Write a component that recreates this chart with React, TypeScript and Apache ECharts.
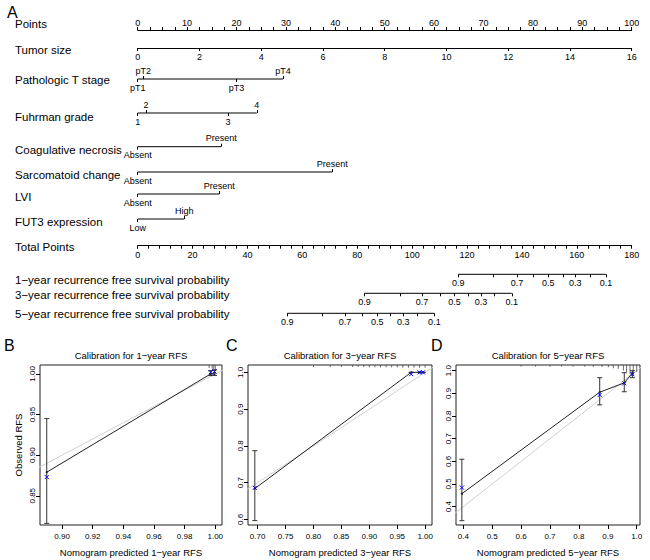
import React, { useEffect, useRef } from "react";
import * as echarts from "echarts";

const FONT = "'Liberation Sans', Arial, Helvetica, sans-serif";

// ---------- Panel A: nomogram ----------
const pointsMax = 100;
const pointsStep = 10;
const tumorSizeMax = 16;
const tumorSizeStep = 2;
const totalPointsMax = 180;
const totalPointsStep = 20;

const tStageLevels = ["pT1", "pT2", "pT3", "pT4"];
const tStagePoints = [0, 1.1, 20.0, 29.4];
const gradeLevels = ["1", "2", "3", "4"];
const gradePoints = [0, 1.7, 18.3, 24.1];
const necrosisLevels = ["Absent", "Present"];
const necrosisPoints = [0, 16.9];
const sarcomatoidLevels = ["Absent", "Present"];
const sarcomatoidPoints = [0, 39.4];
const lviLevels = ["Absent", "Present"];
const lviPoints = [0, 16.5];
const fut3Levels = ["Low", "High"];
const fut3Points = [0, 9.4];

const survivalProbs = [0.9, 0.8, 0.7, 0.6, 0.5, 0.4, 0.3, 0.2, 0.1];
const survivalProbLabels = [0.9, 0.7, 0.5, 0.3, 0.1];
const rfs1yTotalPoints = [116.8, 129.7, 138.2, 144.1, 149.6, 154.9, 159.4, 164.8, 170.6];
const rfs3yTotalPoints = [82.6, 95.6, 103.6, 110.4, 115.4, 120.3, 125.1, 130.0, 136.3];
const rfs5yTotalPoints = [54.5, 67.1, 75.5, 82.0, 87.3, 92.2, 96.8, 101.9, 108.1];

// ---------- Panel B: 1-year calibration ----------
const cal1Predicted = [0.890, 0.997, 0.9995];
const cal1Observed = [0.879, 1.0, 1.0];
const cal1Lower = [0.816, 0.998, 0.998];
const cal1Upper = [0.945, 1.004, 1.005];
const cal1Corrected = [0.873, 1.002, 1.003];
const cal1XTicks = [0.9, 0.92, 0.94, 0.96, 0.98, 1.0];
const cal1YTicks = [0.85, 0.9, 0.95, 1.0];
const cal1XLim = [0.8856, 1.0044];
const cal1YLim = [0.814, 1.011];
const cal1RugX = [0.996, 0.998, 0.999, 1.0];
const cal1RugLen = [0.003, 0.004, 0.005, 0.006];

// ---------- Panel C: 3-year calibration ----------
const cal3Predicted = [0.695, 0.975, 0.99, 0.996];
const cal3Observed = [0.684, 1.0, 1.0, 1.0];
const cal3Lower = [0.597, 1.0, 1.0, 1.0];
const cal3Upper = [0.787, 1.0, 1.0, 1.0];
const cal3Corrected = [0.686, 0.995, 1.0, 1.0];
const cal3XTicks = [0.7, 0.75, 0.8, 0.85, 0.9, 0.95, 1.0];
const cal3YTicks = [0.6, 0.7, 0.8, 0.9, 1.0];
const cal3XLim = [0.6828, 1.0122];
const cal3YLim = [0.585, 1.02];
const cal3RugX = [0.8, 0.83, 0.85, 0.87, 0.88, 0.89, 0.9, 0.91, 0.92, 0.93, 0.94, 0.95, 0.96, 0.97, 0.98, 0.99, 1.0];
const cal3RugLen = [0.004, 0.004, 0.004, 0.004, 0.004, 0.004, 0.005, 0.005, 0.005, 0.005, 0.005, 0.005, 0.006, 0.006, 0.006, 0.006, 0.006];

// ---------- Panel D: 5-year calibration ----------
const cal5Predicted = [0.395, 0.872, 0.957, 0.985];
const cal5Observed = [0.457, 0.905, 0.946, 0.99];
const cal5Lower = [0.338, 0.849, 0.907, 0.969];
const cal5Upper = [0.609, 0.969, 0.991, 1.0];
const cal5Corrected = [0.484, 0.893, 0.944, 0.984];
const cal5XTicks = [0.4, 0.5, 0.6, 0.7, 0.8, 0.9, 1.0];
const cal5YTicks = [0.4, 0.5, 0.6, 0.7, 0.8, 0.9, 1.0];
const cal5XLim = [0.3747, 1.0114];
const cal5YLim = [0.319, 1.025];
const cal5RugX = [0.6, 0.65, 0.7, 0.74, 0.78, 0.82, 0.85, 0.88, 0.902, 0.919, 0.936, 0.954, 0.965, 0.977, 0.988, 1.0];
const cal5RugLen = [0.005, 0.005, 0.005, 0.005, 0.005, 0.005, 0.006, 0.006, 0.0074, 0.012, 0.015, 0.022, 0.029, 0.037, 0.044, 0.029];

// ---------- layout ----------
const NOMO_LEFT = 137.7;
const NOMO_RIGHT = 650 - 631.7;

function buildOption() {
  const grids: any[] = [];
  const xAxes: any[] = [];
  const yAxes: any[] = [];
  const series: any[] = [];
  const graphics: any[] = [];

  const lbl = (extra: any = {}) => ({ color: "#000", fontFamily: FONT, fontSize: 9, margin: 4, ...extra });
  const tick = (extra: any = {}) => ({ show: true, length: 3, lineStyle: { color: "#000", width: 1 }, ...extra });
  const line = { show: true, lineStyle: { color: "#000", width: 1 } };

  const addNomoGrid = (top: number) => {
    const gi = grids.length;
    grids.push({ left: NOMO_LEFT, right: NOMO_RIGHT, top, height: 0, show: false, containLabel: false, outerBoundsMode: "none" });
    yAxes.push({ type: "value", gridIndex: gi, min: 0, max: 1, show: false });
    return gi;
  };

  const text = (t: string, x: number, y: number, size: number, extra: any = {}) => {
    graphics.push({
      type: "text",
      x,
      y,
      silent: true,
      style: { text: t, fill: "#000", fontFamily: FONT, fontSize: size, verticalAlign: "middle", ...extra },
    });
  };

  const nearestLabel = (pts: number[], names: string[]) => (v: number) => {
    let best = 0;
    pts.forEach((p, i) => {
      if (Math.abs(p - v) < Math.abs(pts[best] - v)) best = i;
    });
    return names[best];
  };

  // Points
  {
    const gi = addNomoGrid(30);
    xAxes.push({
      type: "value", gridIndex: gi, position: "top", min: 0, max: pointsMax, interval: pointsStep,
      splitLine: { show: false }, axisLine: line, axisTick: tick(),
      minorTick: { show: true, splitNumber: 4, length: 3, lineStyle: { color: "#000", width: 1 } },
      axisLabel: lbl({ margin: 3 }),
    });
    text("Points", 15, 24, 11.5);
  }
  // Tumor size
  {
    const gi = addNomoGrid(48);
    xAxes.push({
      type: "value", gridIndex: gi, position: "bottom", min: 0, max: tumorSizeMax, interval: tumorSizeStep,
      splitLine: { show: false }, axisLine: line, axisTick: tick(), axisLabel: lbl({ margin: 4 }),
    });
    text("Tumor size", 15, 50, 11.5);
  }

  const addCategorical = (name: string, labelY: number, lineY: number, levels: string[], pts: number[]) => {
    const gi = addNomoGrid(lineY);
    const below = pts.filter((_, i) => i % 2 === 0);
    const above = pts.filter((_, i) => i % 2 === 1);
    const fmt = nearestLabel(pts, levels);
    const xb = xAxes.length;
    xAxes.push({
      type: "value", gridIndex: gi, position: "bottom", min: 0, max: pointsMax,
      splitLine: { show: false }, axisLine: { show: false },
      axisTick: tick({ customValues: below }), axisLabel: lbl({ customValues: below, formatter: fmt, margin: 4 }),
    });
    xAxes.push({
      type: "value", gridIndex: gi, position: "top", min: 0, max: pointsMax,
      splitLine: { show: false }, axisLine: { show: false },
      axisTick: tick({ customValues: above }), axisLabel: lbl({ customValues: above, formatter: fmt, margin: 4 }),
    });
    series.push({
      type: "line", xAxisIndex: xb, yAxisIndex: gi, data: [[Math.min(...pts), 0], [Math.max(...pts), 0]],
      symbol: "none", lineStyle: { color: "#000", width: 1 }, silent: true, clip: false,
    });
    text(name, 15, labelY, 11.5);
  };

  addCategorical("Pathologic T stage", 80, 79, tStageLevels, tStagePoints);
  addCategorical("Fuhrman grade", 117, 113, gradeLevels, gradePoints);
  addCategorical("Coagulative necrosis", 150, 146.7, necrosisLevels, necrosisPoints);
  addCategorical("Sarcomatoid change", 175, 172, sarcomatoidLevels, sarcomatoidPoints);
  addCategorical("LVI", 197, 194, lviLevels, lviPoints);
  addCategorical("FUT3 expression", 222, 219, fut3Levels, fut3Points);

  // Total points
  {
    const gi = addNomoGrid(245.7);
    xAxes.push({
      type: "value", gridIndex: gi, position: "bottom", min: 0, max: totalPointsMax, interval: totalPointsStep,
      splitLine: { show: false }, axisLine: line, axisTick: tick(),
      minorTick: { show: true, splitNumber: 5, length: 3, lineStyle: { color: "#000", width: 1 } },
      axisLabel: lbl({ margin: 5 }),
    });
    text("Total Points", 15, 247, 11.5);
  }

  const addProb = (name: string, labelY: number, lineY: number, pts: number[]) => {
    const gi = addNomoGrid(lineY);
    const labelled = pts.filter((_, i) => survivalProbLabels.indexOf(survivalProbs[i]) >= 0);
    const names = survivalProbs.map((p) => String(p));
    const xb = xAxes.length;
    xAxes.push({
      type: "value", gridIndex: gi, position: "bottom", min: 0, max: totalPointsMax,
      splitLine: { show: false }, axisLine: { show: false },
      axisTick: tick({ customValues: pts }),
      axisLabel: lbl({ customValues: labelled, formatter: nearestLabel(pts, names), margin: 4 }),
    });
    series.push({
      type: "line", xAxisIndex: xb, yAxisIndex: gi, data: [[Math.min(...pts), 0], [Math.max(...pts), 0]],
      symbol: "none", lineStyle: { color: "#000", width: 1 }, silent: true, clip: false,
    });
    text(name, 15, labelY, 11.5);
  };

  addProb("1\u2212year recurrence free survival probability", 280, 274.3, rfs1yTotalPoints);
  addProb("3\u2212year recurrence free survival probability", 295, 293.3, rfs3yTotalPoints);
  addProb("5\u2212year recurrence free survival probability", 314, 313.3, rfs5yTotalPoints);

  text("A", 7, 12.5, 16);

  // ---------- calibration panels ----------
  const addCal = (cfg: any) => {
    const gi = grids.length;
    grids.push({
      left: cfg.left, width: cfg.width, top: 365, height: 160, show: true,
      borderColor: "#222", borderWidth: 1, backgroundColor: "transparent",
      containLabel: false, outerBoundsMode: "none",
    });
    const xi = xAxes.length;
    xAxes.push({
      type: "value", gridIndex: gi, position: "bottom", min: cfg.xLim[0], max: cfg.xLim[1],
      splitLine: { show: false }, axisLine: { show: false },
      axisTick: { show: true, length: 4, lineStyle: { color: "#000" }, customValues: cfg.xTicks },
      axisLabel: { customValues: cfg.xTicks, formatter: (v: number) => v.toFixed(cfg.xDec), color: "#000", fontFamily: FONT, fontSize: 8, margin: 7 },
      name: cfg.xName, nameLocation: "middle", nameGap: 22,
      nameTextStyle: { color: "#000", fontFamily: FONT, fontSize: 9.5 },
    });
    yAxes.push({
      type: "value", gridIndex: gi, position: "left", min: cfg.yLim[0], max: cfg.yLim[1],
      splitLine: { show: false }, axisLine: { show: false },
      axisTick: { show: true, length: 4, lineStyle: { color: "#000" }, customValues: cfg.yTicks },
      axisLabel: { customValues: cfg.yTicks, formatter: (v: number) => v.toFixed(cfg.yDec), rotate: 90, color: "#000", fontFamily: FONT, fontSize: 8, margin: 4 },
      name: cfg.yName || "", nameLocation: "middle", nameGap: 17,
      nameTextStyle: { color: "#000", fontFamily: FONT, fontSize: 9.5 },
    });
    const yi = gi;
    const lo = Math.min(cfg.xLim[0], cfg.yLim[0]);
    const hi = Math.max(cfg.xLim[1], cfg.yLim[1]);
    // ideal line
    series.push({
      type: "line", xAxisIndex: xi, yAxisIndex: yi, data: [[lo, lo], [hi, hi]], symbol: "none",
      lineStyle: { color: "#d0d0d0", width: 1 }, silent: true, clip: true, z: 1,
    });
    // rug along the top
    const yTop = cfg.yLim[1];
    series.push({
      type: "custom", xAxisIndex: xi, yAxisIndex: yi, silent: true, z: 2,
      data: cfg.rugX.map((x: number, i: number) => [x, cfg.rugLen[i]]),
      renderItem: (_p: any, api: any) => {
        const a = api.coord([api.value(0), yTop]);
        const b = api.coord([api.value(0), yTop - api.value(1)]);
        return { type: "line", shape: { x1: a[0], y1: a[1], x2: b[0], y2: b[1] + 0.5 }, style: { stroke: "#444", lineWidth: 0.8 } };
      },
    });
    // observed line
    series.push({
      type: "line", xAxisIndex: xi, yAxisIndex: yi,
      data: cfg.pred.map((x: number, i: number) => [x, cfg.obs[i]]),
      symbol: "circle", symbolSize: 2, itemStyle: { color: "#000" },
      lineStyle: { color: "#222", width: 1 }, silent: true, clip: false, z: 3,
    });
    // error bars
    series.push({
      type: "custom", xAxisIndex: xi, yAxisIndex: yi, silent: true, z: 4,
      data: cfg.pred.map((x: number, i: number) => [x, cfg.lower[i], cfg.upper[i]]),
      encode: { x: 0, y: [1, 2] },
      renderItem: (_p: any, api: any) => {
        const x = api.value(0);
        const a = api.coord([x, api.value(1)]);
        const b = api.coord([x, api.value(2)]);
        const w = 2.5;
        const st = { stroke: "#333", lineWidth: 1 };
        return {
          type: "group",
          children: [
            { type: "line", shape: { x1: a[0], y1: a[1], x2: b[0], y2: b[1] }, style: st },
            { type: "line", shape: { x1: a[0] - w, y1: a[1], x2: a[0] + w, y2: a[1] }, style: st },
            { type: "line", shape: { x1: b[0] - w, y1: b[1], x2: b[0] + w, y2: b[1] }, style: st },
          ],
        };
      },
    });
    // bias-corrected (blue x)
    series.push({
      type: "custom", xAxisIndex: xi, yAxisIndex: yi, silent: true, z: 5,
      data: cfg.pred.map((x: number, i: number) => [x, cfg.corr[i]]),
      renderItem: (_p: any, api: any) => {
        const c = api.coord([api.value(0), api.value(1)]);
        const s = 2;
        const st = { stroke: "#0000ff", lineWidth: 1 };
        return {
          type: "group",
          children: [
            { type: "line", shape: { x1: c[0] - s, y1: c[1] - s, x2: c[0] + s, y2: c[1] + s }, style: st },
            { type: "line", shape: { x1: c[0] - s, y1: c[1] + s, x2: c[0] + s, y2: c[1] - s }, style: st },
          ],
        };
      },
    });
    text(cfg.title, cfg.left + cfg.width / 2, 355, 9.5, { align: "center" });
    text(cfg.letter, cfg.letterX, 345, 16);
  };

  addCal({
    left: 40, width: 182, xLim: cal1XLim, yLim: cal1YLim, xTicks: cal1XTicks, yTicks: cal1YTicks, xDec: 2, yDec: 2,
    xName: "Nomogram predicted 1\u2212year RFS", yName: "Observed RFS",
    pred: cal1Predicted, obs: cal1Observed, lower: cal1Lower, upper: cal1Upper, corr: cal1Corrected,
    rugX: cal1RugX, rugLen: cal1RugLen, title: "Calibration for 1\u2212year RFS", letter: "B", letterX: 4,
  });
  addCal({
    left: 248, width: 184, xLim: cal3XLim, yLim: cal3YLim, xTicks: cal3XTicks, yTicks: cal3YTicks, xDec: 2, yDec: 1,
    xName: "Nomogram predicted 3\u2212year RFS",
    pred: cal3Predicted, obs: cal3Observed, lower: cal3Lower, upper: cal3Upper, corr: cal3Corrected,
    rugX: cal3RugX, rugLen: cal3RugLen, title: "Calibration for 3\u2212year RFS", letter: "C", letterX: 226,
  });
  addCal({
    left: 456, width: 184, xLim: cal5XLim, yLim: cal5YLim, xTicks: cal5XTicks, yTicks: cal5YTicks, xDec: 1, yDec: 1,
    xName: "Nomogram predicted 5\u2212year RFS",
    pred: cal5Predicted, obs: cal5Observed, lower: cal5Lower, upper: cal5Upper, corr: cal5Corrected,
    rugX: cal5RugX, rugLen: cal5RugLen, title: "Calibration for 5\u2212year RFS", letter: "D", letterX: 431,
  });

  return {
    animation: false,
    backgroundColor: "#fff",
    textStyle: { fontFamily: FONT },
    grid: grids,
    xAxis: xAxes,
    yAxis: yAxes,
    series,
    graphic: { elements: graphics },
  };
}

export default function App() {
  const ref = useRef<HTMLDivElement>(null);
  useEffect(() => {
    if (!ref.current) return;
    const chart = echarts.init(ref.current, undefined, { renderer: "svg" });
    chart.setOption(buildOption() as any);
    return () => chart.dispose();
  }, []);
  return (
    <div
      ref={ref}
      style={{ position: "absolute", left: 0, top: 0, width: 650, height: 560, background: "#fff" }}
    />
  );
}
